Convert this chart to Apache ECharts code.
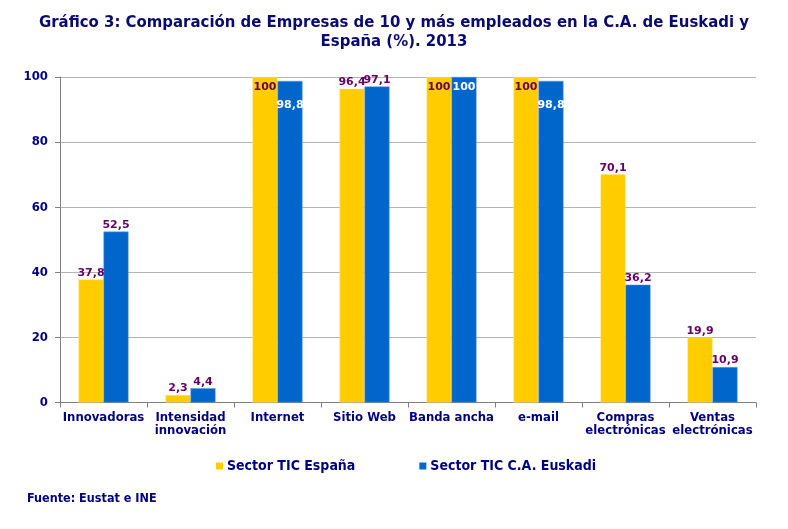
<!DOCTYPE html>
<html>
<head>
<meta charset="utf-8">
<script src="https://cdn.jsdelivr.net/npm/echarts@6/dist/echarts.min.js"></script>
<style>
html,body{margin:0;padding:0;background:#fff;}
#c{width:788px;height:529px;}
</style>
</head>
<body>
<div id="c"></div>
<script>
const categories = ['Innovadoras', 'Intensidad\ninnovación', 'Internet', 'Sitio Web', 'Banda ancha', 'e-mail', 'Compras\nelectrónicas', 'Ventas\nelectrónicas'];
const espana = [37.8, 2.3, 100, 96.4, 100, 100, 70.1, 19.9];
const euskadi = [52.5, 4.4, 98.8, 97.1, 100, 98.8, 36.2, 10.9];
const yTicks = [0, 20, 40, 60, 80, 100];
const seriesNames = ['Sector TIC España', 'Sector TIC C.A. Euskadi'];

const COND = "'DejaVu Sans Condensed', 'DejaVu Sans', sans-serif";
const LABELFONT = "'DejaVu Sans', Verdana, sans-serif";
const purple = '#660066';
const navy = '#000080';

function fmt(v){ return String(v).replace('.', ','); }

const baseLabel = {show:true, position:'top', distance:1, color:purple, fontFamily:LABELFONT, fontWeight:'bold', fontSize:11, formatter: p => fmt(p.value)};

const espData = espana.map(v => v >= 100 ? {value:v, label:{position:'insideTop', distance:5}} : v);
const euskData = euskadi.map((v, i) => {
  if (v >= 100) return {value:v, label:{position:'insideTop', distance:5, color:'#ffffff'}};
  if (v > 98 && espana[i] >= 100) return {value:v, label:{position:'insideTop', distance:19, color:'#ffffff'}};
  return v;
});

const chart = echarts.init(document.getElementById('c'), null, {renderer:'canvas'});
chart.setOption({
  animation:false,
  backgroundColor:'#ffffff',
  title:{
    text:'Gráfico 3: Comparación de Empresas de 10 y más empleados en la C.A. de Euskadi y\nEspaña (%). 2013',
    left:'center', top:8,
    textStyle:{color:'#0a0a70', fontFamily:COND, fontWeight:'bold', fontSize:16.6, lineHeight:19}
  },
  legend:{
    data:seriesNames, top:454, left:211, itemWidth:7, itemHeight:7, itemGap:64,
    icon:'rect',
    itemStyle:{borderWidth:0},
    textStyle:{color:navy, fontFamily:COND, fontWeight:'bold', fontSize:14, padding:[0,0,0,-1]}
  },
  graphic:[{type:'text', left:27, top:492, style:{text:'Fuente: Eustat e INE', fill:navy, font:"bold 12.5px "+COND}}],
  grid:{left:60, right:32, top:77, bottom:126.5, containLabel:false},
  xAxis:{
    type:'category', data:categories,
    axisLine:{lineStyle:{color:'#808080', width:1}},
    axisTick:{show:true, alignWithLabel:false, length:5, lineStyle:{color:'#808080'}},
    axisLabel:{interval:0, color:navy, fontFamily:COND, fontWeight:'bold', fontSize:13, lineHeight:13, margin:9}
  },
  yAxis:{
    type:'value', min:yTicks[0], max:yTicks[yTicks.length-1], interval:20,
    axisLine:{show:true, lineStyle:{color:'#808080'}},
    axisTick:{show:true, length:5, inside:false, lineStyle:{color:'#808080'}},
    splitLine:{lineStyle:{color:'#b4b4b4'}},
    axisLabel:{color:navy, fontFamily:COND, fontWeight:'bold', fontSize:13, margin:12}
  },
  series:[
    {name:seriesNames[0], type:'bar', data:espData, barWidth:25, barGap:'0%',
     itemStyle:{color:'#FFCC00', borderColor:'#FFE680', borderWidth:0.5}, label:baseLabel},
    {name:seriesNames[1], type:'bar', data:euskData, barWidth:25,
     itemStyle:{color:'#0066CC', borderColor:'#6699DD', borderWidth:0.5}, label:baseLabel}
  ]
});
</script>
</body>
</html>
